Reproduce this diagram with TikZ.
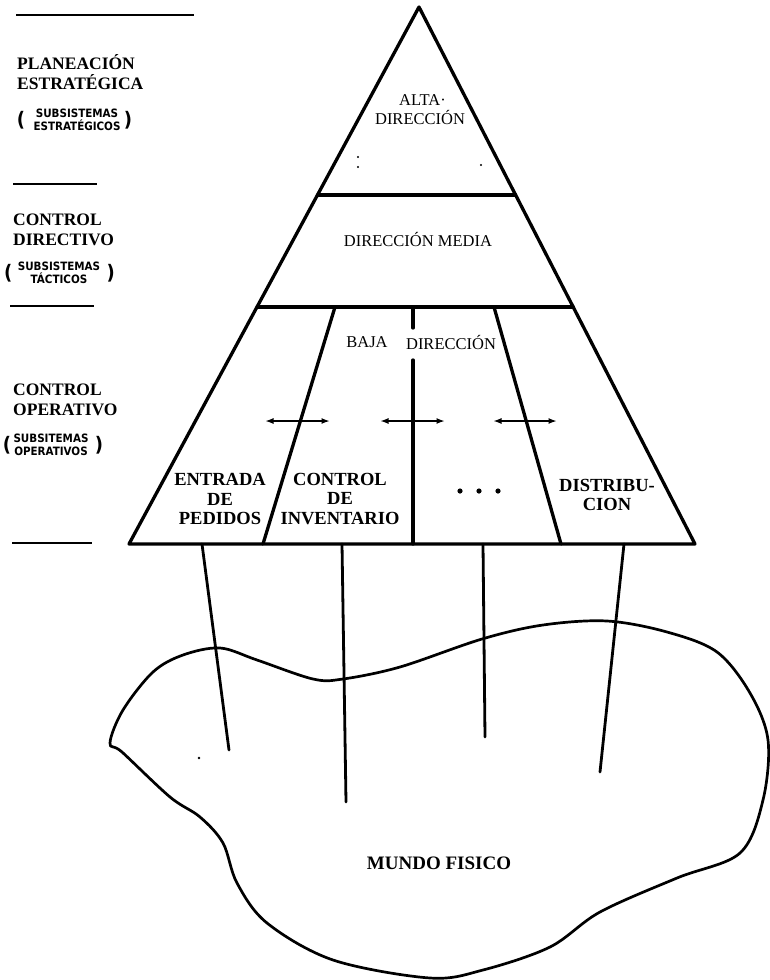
\documentclass[tikz,border=0pt]{standalone}
\usepackage{fontspec}
\setmainfont{Liberation Serif}
\newfontfamily\condsans{DejaVu Sans Condensed}
\usetikzlibrary{arrows.meta,calc}

\begin{document}
\begin{tikzpicture}[x=1pt,y=-1pt,
  edge/.style={line width=3.3pt, line join=round, line cap=round},
  rule/.style={line width=2pt},
  pole/.style={line width=2.8pt, line cap=round},
  blob/.style={line width=2.7pt, line join=round},
  arr/.style={line width=2pt, {Latex[length=8.5pt,width=6pt]}-{Latex[length=8.5pt,width=6pt]}},
  level/.style={font=\fontsize{17.5}{19.5}\selectfont\bfseries, anchor=west, align=left, inner sep=0pt},
  subsys/.style={font=\condsans\bfseries\fontsize{11.5}{13}\selectfont, align=center, inner sep=0pt},
  paren/.style={font=\condsans\bfseries\fontsize{20}{20}\selectfont, inner sep=0pt},
  tier/.style={font=\fontsize{16.5}{19}\selectfont, align=center, inner sep=0pt},
  unit/.style={font=\fontsize{18.5}{19.5}\selectfont\bfseries, align=center, inner sep=0pt},
  speck/.style={fill=black, draw=none}
]
\useasboundingbox (0,0) rectangle (769,980);

% ---------- pyramid outline and levels ----------
\coordinate (apex) at (419,7);
\coordinate (bl) at (129,544);
\coordinate (br) at (695,544);
\coordinate (m1l) at ($(apex)!0.350!(bl)$);
\coordinate (m1r) at ($(apex)!0.350!(br)$);
\coordinate (m2l) at ($(apex)!0.5587!(bl)$);
\coordinate (m2r) at ($(apex)!0.5587!(br)$);

\draw[edge] (apex) -- (bl) -- (br) -- cycle;
\draw[edge] (m1l) -- (m1r);
\draw[edge] (m2l) -- (m2r);

% ---------- dividers of the operative band ----------
\coordinate (d1t) at (335,307);  \coordinate (d1b) at (263,544);
\coordinate (d2t) at (413,307);  \coordinate (d2a) at (413,328);
\coordinate (d2c) at (413,360);  \coordinate (d2b) at (413,544);
\coordinate (d3t) at (494,307);  \coordinate (d3b) at (561,544);
\draw[edge] (d1t) -- (d1b);
\draw[edge] (d2t) -- (d2a);
\draw[edge] (d2c) -- (d2b);
\draw[edge] (d3t) -- (d3b);

% ---------- exchange arrows between subsystems ----------
\coordinate (a1l) at (265,421); \coordinate (a1r) at (330,421);
\coordinate (a2l) at (380,421); \coordinate (a2r) at (445,421);
\coordinate (a3l) at (493,421); \coordinate (a3r) at (557,421);
\draw[arr] (a1l) -- (a1r);
\draw[arr] (a2l) -- (a2r);
\draw[arr] (a3l) -- (a3r);

% ---------- labels inside the pyramid ----------
\node[tier] (alta) at (420,110) {\hspace*{5pt}ALTA·\\DIRECCIÓN};
\node[tier] (media) at (418,239) {DIRECCIÓN MEDIA};
\node[tier] (baja) at (367,342) {BAJA};
\node[tier] (bajadir) at (451,342) {DIRECCIÓN};

\node[unit] (entrada) at (220,499) {ENTRADA\\DE\\PEDIDOS};
\node[unit] (inventario) at (340,499) {CONTROL\\DE\\INVENTARIO};
\node[unit] (distrib) at (607,495) {DISTRIBU-\\CION};
\fill[speck] (460,491) circle (2.6pt) (479,491) circle (2.6pt) (498,491) circle (2.6pt);
\node[inner sep=0pt] (more) at (479,491) {};

% small marks in the top level
\fill[speck] (358,157) circle (1.1pt) (358,167) circle (1.1pt) (481,165) circle (1.1pt);

% ---------- physical world ----------
\draw[blob] plot[smooth cycle, tension=0.55] coordinates {
  (110,743) (123,710) (153,672) (183,655) (220,648) (257,660) (313,679)
  (343,679) (400,667) (482,639) (543,625) (607,621) (667,632) (717,652)
  (750,693) (768,740) (763,800) (740,853) (677,878) (600,912) (550,947)
  (483,970) (430,978) (333,960) (267,923) (237,883) (223,843) (200,817)
  (170,797) (122,752)};
\node[font=\fontsize{19}{20}\selectfont\bfseries, inner sep=0pt] (mundo) at (439,863) {MUNDO FISICO};
\fill[speck] (199,758) circle (1.3pt);

% ---------- links from each subsystem down to the world ----------
\coordinate (c1t) at (202,544); \coordinate (c1b) at (229,750);
\coordinate (c2t) at (342,544); \coordinate (c2b) at (346,802);
\coordinate (c3t) at (483,544); \coordinate (c3b) at (485,737);
\coordinate (c4t) at (624,544); \coordinate (c4b) at (600,772);
\draw[pole] (c1t) -- (c1b);
\draw[pole] (c2t) -- (c2b);
\draw[pole] (c3t) -- (c3b);
\draw[pole] (c4t) -- (c4b);

% ---------- level captions on the left ----------
\coordinate (r1a) at (16,15);  \coordinate (r1b) at (194,15);
\coordinate (r2a) at (13,184); \coordinate (r2b) at (97,184);
\coordinate (r3a) at (10,306); \coordinate (r3b) at (94,306);
\coordinate (r4a) at (12,543); \coordinate (r4b) at (92,543);
\draw[rule] (r1a) -- (r1b);
\draw[rule] (r2a) -- (r2b);
\draw[rule] (r3a) -- (r3b);
\draw[rule] (r4a) -- (r4b);

\node[level] (plan) at (17,72) {PLANEACIÓN\\ESTRATÉGICA};
\node[subsys] (s1) at (77,120) {SUBSISTEMAS\\ESTRATÉGICOS};
\node[paren, anchor=east] (p1l) at ([xshift=-8pt]s1.west) {(};
\node[paren, anchor=west] (p1r) at ([xshift=3pt]s1.east) {)};

\node[level] (dir) at (13,230) {CONTROL\\DIRECTIVO};
\node[subsys] (s2) at (59,273) {SUBSISTEMAS\\TÁCTICOS};
\node[paren, anchor=east] (p2l) at ([xshift=-5pt]s2.west) {(};
\node[paren, anchor=west] (p2r) at ([xshift=6pt]s2.east) {)};

\node[level] (oper) at (13,400) {CONTROL\\OPERATIVO};
\node[subsys] (s3) at (51,445) {SUBSITEMAS\\OPERATIVOS};
\node[paren, anchor=east] (p3l) at ([xshift=-2pt]s3.west) {(};
\node[paren, anchor=west] (p3r) at ([xshift=6pt]s3.east) {)};
\end{tikzpicture}
\end{document}
